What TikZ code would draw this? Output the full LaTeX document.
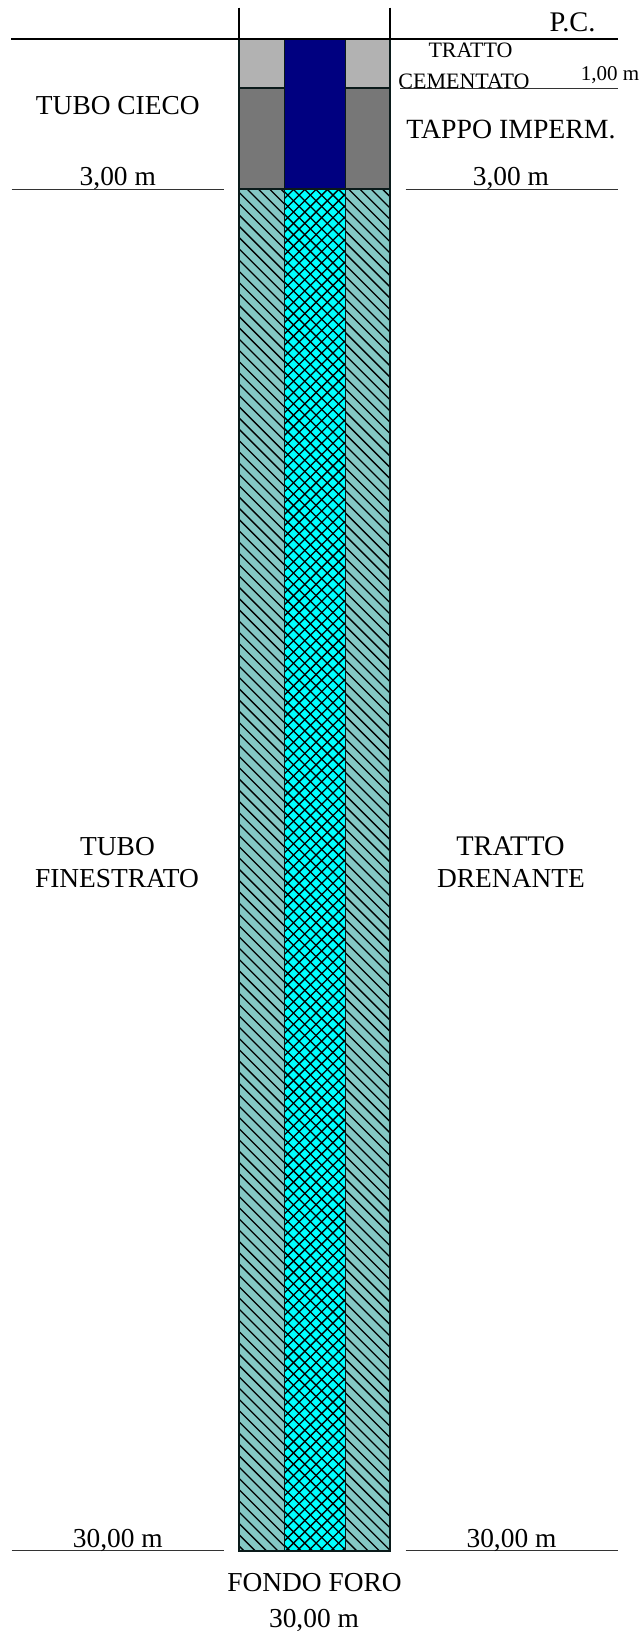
\documentclass[tikz,border=0pt]{standalone}
\usepackage{fontspec}
\setmainfont{Liberation Serif}
\definecolor{teal1}{HTML}{84C8C4}
\definecolor{cyan1}{HTML}{00FFFF}
\definecolor{navy1}{HTML}{000080}
\definecolor{grey1}{HTML}{B2B2B2}
\definecolor{grey2}{HTML}{777777}
\definecolor{edge1}{HTML}{0A1A1A}
\definecolor{rule1}{HTML}{333333}
\tikzset{
  big/.style={anchor=base,inner sep=0pt,font=\fontsize{27.4}{30}\selectfont},
  bigger/.style={anchor=base,inner sep=0pt,font=\fontsize{28.4}{30}\selectfont},
  small/.style={anchor=base,inner sep=0pt,font=\fontsize{22}{24}\selectfont},
  tiny1/.style={anchor=base,inner sep=0pt,font=\fontsize{21}{24}\selectfont},
  cell/.style={draw=edge1,line width=1.8pt},
  rule/.style={draw=rule1,line width=1pt},
  thick rule/.style={draw=black,line width=2pt},
  hatchline/.style={draw=black,line width=1.3pt}
}
\begin{document}
\begin{tikzpicture}[x=1pt,y=-1pt]
\useasboundingbox (0,0) rectangle (641,1631);
\fill[white] (0,0) rectangle (641,1631);
% cells
\fill[grey1] (239,39) rectangle (284.5,88);
\fill[grey1] (345.4,39) rectangle (390,88);
\fill[grey2] (239,88) rectangle (284.5,189);
\fill[grey2] (345.4,88) rectangle (390,189);
\fill[navy1] (284.5,39) rectangle (345.4,189);
\fill[teal1] (239,189) rectangle (284.5,1551);
\fill[teal1] (345.4,189) rectangle (390,1551);
\fill[cyan1] (284.5,189) rectangle (345.4,1551);
% hatching
\begin{scope}
\clip (239,189) rectangle (284.5,1551) (345.4,189) rectangle (390,1551);
\foreach \k in {-122,...,14}{
  \pgfmathsetmacro{\c}{58+11.28*\k}
  \draw[hatchline] (\c+189,189) -- (\c+1551,1551);
}
\end{scope}
\begin{scope}
\clip (284.5,189) rectangle (345.4,1551);
\foreach \k in {-122,...,14}{
  \pgfmathsetmacro{\c}{104+11.28*\k}
  \draw[hatchline] (\c+189,189) -- (\c+1551,1551);
}
\foreach \k in {-2,...,138}{
  \pgfmathsetmacro{\c}{483+11.28*\k}
  \draw[hatchline] (\c-189,189) -- (\c-1551,1551);
}
\end{scope}
% outlines
\draw[cell] (239,39) rectangle (284.5,88);
\draw[cell] (345.4,39) rectangle (390,88);
\draw[cell] (239,88) rectangle (284.5,189);
\draw[cell] (345.4,88) rectangle (390,189);
\draw[cell] (284.5,39) rectangle (345.4,189);
\draw[cell] (239,189) rectangle (284.5,1551);
\draw[cell] (345.4,189) rectangle (390,1551);
\draw[cell] (284.5,189) rectangle (345.4,1551);
% rules
\draw[thick rule] (11,39) -- (618,39);
\draw[thick rule] (239,7.5) -- (239,39);
\draw[thick rule] (390,7.5) -- (390,39);
\draw[rule] (400,88) -- (618,88);
\draw[rule] (11.5,189) -- (224,189);
\draw[rule] (405.5,189) -- (618,189);
\draw[rule] (11.5,1550.5) -- (224,1550.5);
\draw[rule] (405.5,1550.5) -- (618,1550.5);
% labels
\node[bigger] (pc) at (572.5,31) {P.C.};
\node[small] (tr1) at (470.5,57) {TRATTO};
\node[small] (cem) at (464,88) {CEMENTATO};
\node[tiny1] (one) at (610,80) {1,00 m};
\node[big] (cieco) at (117.8,114) {TUBO CIECO};
\node[font=\fontsize{27.8}{30}\selectfont,anchor=base,inner sep=0pt] (tappo) at (511,138) {TAPPO IMPERM.};
\node[big] (l3) at (117.8,185.5) {3,00 m};
\node[big] (r3) at (511,185.5) {3,00 m};
\node[big] (tubo) at (117.5,855) {TUBO};
\node[big] (fin) at (117,887) {FINESTRATO};
\node[bigger] (tr2) at (510.5,855) {TRATTO};
\node[big] (dre) at (511,887) {DRENANTE};
\node[big] (l30) at (117.8,1547) {30,00 m};
\node[big] (r30) at (511.5,1547) {30,00 m};
\node[big] (fondo) at (314.5,1591) {FONDO FORO};
\node[big] (f30) at (314,1627.5) {30,00 m};
\end{tikzpicture}
\end{document}
